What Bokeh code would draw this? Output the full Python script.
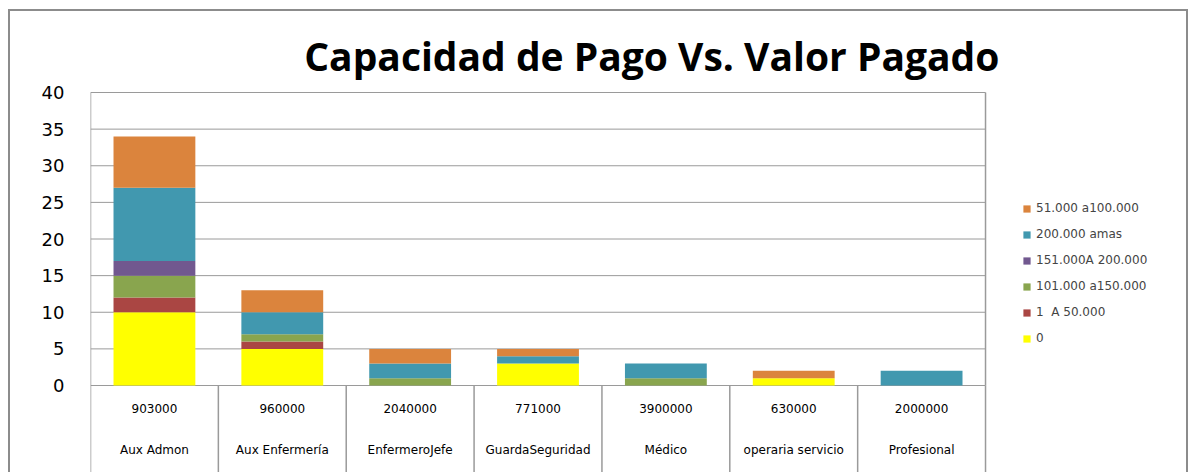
from bokeh.plotting import figure
from bokeh.models import ColumnDataSource, Range1d, FixedTicker, Legend, LegendItem, Spacer
from bokeh.layouts import column, row
from bokeh.core.properties import value
from bokeh.embed import file_html
from bokeh.resources import INLINE

# ---------------- data ----------------
categories = ["Aux Admon", "Aux Enfermería", "EnfermeroJefe", "GuardaSeguridad",
              "Médico", "operaria servicio", "Profesional"]
valor_pagado = ["903000", "960000", "2040000", "771000", "3900000", "630000", "2000000"]

series_labels = ["0", "1  A 50.000", "101.000 a150.000", "151.000A 200.000",
                 "200.000 amas", "51.000 a100.000"]
s_cero = [10, 5, 0, 3, 0, 1, 0]
s_1_50 = [2, 1, 0, 0, 0, 0, 0]
s_101_150 = [3, 1, 1, 0, 1, 0, 0]
s_151_200 = [2, 0, 0, 0, 0, 0, 0]
s_200_mas = [10, 3, 2, 1, 2, 0, 2]
s_51_100 = [7, 3, 2, 1, 0, 1, 0]
series_colors = ["#FFFF00", "#AA4643", "#89A54E", "#71588F", "#4198AF", "#DB843D"]
y_ticks = [0, 5, 10, 15, 20, 25, 30, 35, 40]
title_text = "Capacidad de Pago Vs. Valor Pagado"

# ---------------- figure ----------------
n = len(categories)
ytop = 40
PX_X = 127.86          # px per category
PX_Y = 7.325           # px per unit
W, H = 1180, 463
LEFT = 82
ZERO_Y = 376           # canvas y of value 0
xmax = (W - LEFT) / PX_X
ymax = ytop + (ZERO_Y - 293) / PX_Y
ymin = -(H - ZERO_Y) / PX_Y
FONT = "DejaVu Sans"
GRID = "#9a9a9a"

p = figure(width=W, height=H, output_backend="svg", toolbar_location=None,
           x_range=Range1d(0, xmax), y_range=Range1d(ymin, ymax),
           x_axis_location=None,
           min_border_left=LEFT, min_border_right=0, min_border_top=0, min_border_bottom=0)
p.styles = {"box-shadow": "inset 2px 0 0 #8c8c8c, inset -2px 0 0 #8c8c8c, inset 0 2px 0 #8c8c8c"}
p.outline_line_color = None
p.background_fill_color = None
p.border_fill_color = None
p.xgrid.visible = False
p.ygrid.visible = False

p.yaxis.ticker = FixedTicker(ticks=y_ticks)
p.yaxis.axis_line_color = None
p.yaxis.major_tick_line_color = None
p.yaxis.minor_tick_line_color = None
p.yaxis.major_tick_out = 0
p.yaxis.major_label_standoff = 26
p.yaxis.major_label_text_font = FONT
p.yaxis.major_label_text_font_size = "18px"
p.yaxis.major_label_text_color = "#000000"

# gridlines limited to the plot area
p.segment(x0=[0] * len(y_ticks), x1=[n] * len(y_ticks), y0=y_ticks, y1=y_ticks,
          line_color=GRID, line_width=1)

src = ColumnDataSource(dict(
    x=[i + 0.5 for i in range(n)],
    cero=s_cero, r1=s_1_50, r101=s_101_150, r151=s_151_200, r200=s_200_mas, r51=s_51_100,
    val=valor_pagado, cat=categories,
))
keys = ["cero", "r1", "r101", "r151", "r200", "r51"]
renderers = p.vbar_stack(keys, x="x", width=0.64, color=series_colors,
                         line_color=None, source=src)

# category table lines
bounds = list(range(n + 1))
p.segment(x0=bounds, x1=bounds, y0=[ymin] * (n + 1), y1=[0] * (n + 1),
          line_color=GRID, line_width=1.5)
p.segment(x0=[0, n], x1=[0, n], y0=[0, 0], y1=[ytop, ytop],
          line_color=GRID, line_width=1.5)

# category texts
p.text(x="x", y=-3.14, text="val", source=src, text_align="center", text_baseline="middle",
       text_font=value(FONT), text_font_size="12px", text_color="#000000")
p.text(x="x", y=-8.74, text="cat", source=src, text_align="center", text_baseline="middle",
       text_font=value(FONT), text_font_size="12px", text_color="#000000")

# title
p.text(x=[4.39], y=[45.1], text=[title_text], text_align="center",
       text_baseline="middle", text_font=value("Open Sans"),
       text_font_size="39px", text_font_style="bold", text_color="#000000")

# legend (reversed order)
items = [LegendItem(label=series_labels[i], renderers=[renderers[i]])
         for i in reversed(range(len(renderers)))]
legend = Legend(items=items, location=(932, 124), orientation="vertical",
                glyph_width=9, glyph_height=9, label_height=20, spacing=6,
                label_standoff=5, padding=0, margin=0,
                label_text_font=FONT, label_text_font_size="12px",
                border_line_color=None, background_fill_alpha=0)
p.add_layout(legend, "center")

layout = column(Spacer(height=9), row(Spacer(width=8), p))
open("out.html", "w").write(file_html(layout, INLINE))
